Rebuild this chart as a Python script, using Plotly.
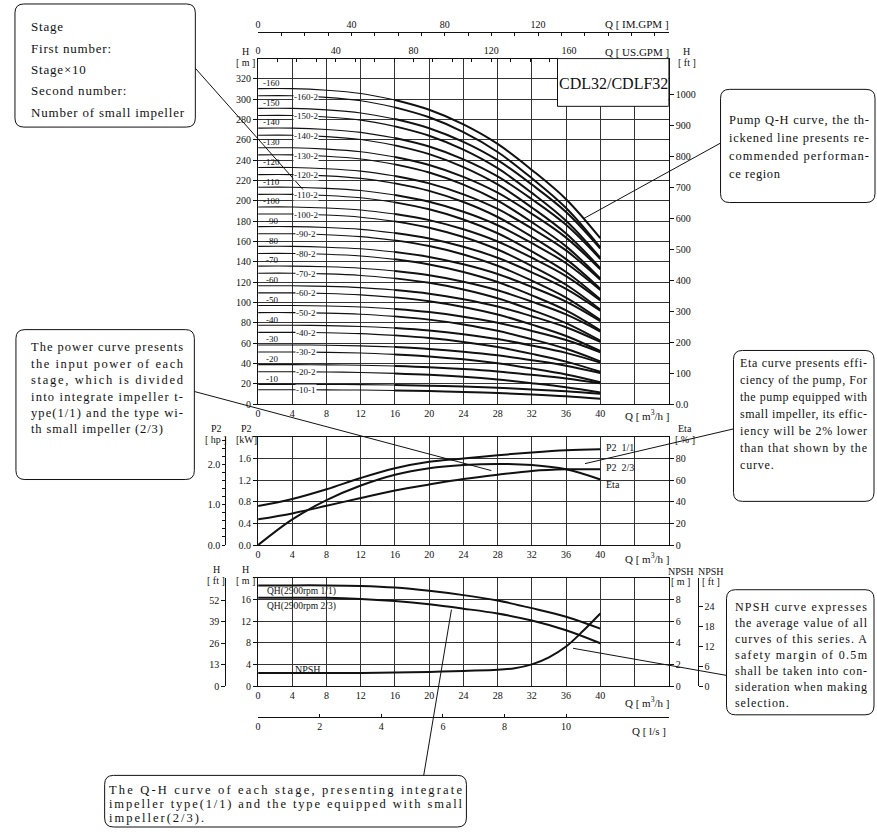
import json
import plotly.graph_objects as go

W, H = 877, 834
FONT = "Liberation Serif, Times New Roman, serif"
INK = "#111111"

# ---- data ----
q = [0, 4, 8, 12, 16, 20, 24, 28, 32, 36, 40]

stage_labels = ["-10", "-20", "-30", "-40", "-50", "-60", "-70", "-80",
                "-90", "-100", "-110", "-120", "-130", "-140", "-150", "-160"]
small_labels = ["-10-1", "-20-2", "-30-2", "-40-2", "-50-2", "-60-2", "-70-2", "-80-2",
                "-90-2", "-100-2", "-110-2", "-120-2", "-130-2", "-140-2", "-150-2", "-160-2"]

# H [m] of each stage curve, integrate impeller (1/1)
qh_stage = [
    [19.4, 19.4, 19.3, 19.1, 18.7, 18.1, 17.2, 16.0, 14.4, 12.6, 10.2],
    [38.8, 38.8, 38.6, 38.2, 37.4, 36.2, 34.4, 32.0, 28.8, 25.2, 20.4],
    [58.2, 58.2, 57.9, 57.3, 56.1, 54.3, 51.6, 48.0, 43.2, 37.8, 30.6],
    [77.6, 77.6, 77.2, 76.4, 74.8, 72.4, 68.8, 64.0, 57.6, 50.4, 40.8],
    [97.0, 97.0, 96.5, 95.5, 93.5, 90.5, 86.0, 80.0, 72.0, 63.0, 51.0],
    [116.4, 116.4, 115.8, 114.6, 112.2, 108.6, 103.2, 96.0, 86.4, 75.6, 61.2],
    [135.8, 135.8, 135.1, 133.7, 130.9, 126.7, 120.4, 112.0, 100.8, 88.2, 71.4],
    [155.2, 155.2, 154.4, 152.8, 149.6, 144.8, 137.6, 128.0, 115.2, 100.8, 81.6],
    [174.6, 174.6, 173.7, 171.9, 168.3, 162.9, 154.8, 144.0, 129.6, 113.4, 91.8],
    [194.0, 194.0, 193.0, 191.0, 187.0, 181.0, 172.0, 160.0, 144.0, 126.0, 102.0],
    [213.4, 213.4, 212.3, 210.1, 205.7, 199.1, 189.2, 176.0, 158.4, 138.6, 112.2],
    [232.8, 232.8, 231.6, 229.2, 224.4, 217.2, 206.4, 192.0, 172.8, 151.2, 122.4],
    [252.2, 252.2, 250.9, 248.3, 243.1, 235.3, 223.6, 208.0, 187.2, 163.8, 132.6],
    [271.6, 271.6, 270.2, 267.4, 261.8, 253.4, 240.8, 224.0, 201.6, 176.4, 142.8],
    [291.0, 291.0, 289.5, 286.5, 280.5, 271.5, 258.0, 240.0, 216.0, 189.0, 153.0],
    [310.4, 310.4, 308.8, 305.6, 299.2, 289.6, 275.2, 256.0, 230.4, 201.6, 163.2],
]

# H [m] of each stage curve with small impellers
qh_small = [
    [14.1, 14.1, 14.0, 13.8, 13.4, 12.8, 12.0, 10.9, 9.5, 7.7, 5.2],
    [31.8, 31.8, 31.6, 31.1, 30.2, 28.8, 26.8, 24.1, 20.6, 16.6, 11.4],
    [51.2, 51.2, 50.9, 50.2, 48.9, 46.9, 44.0, 40.1, 35.0, 29.2, 21.6],
    [70.6, 70.6, 70.2, 69.3, 67.6, 65.0, 61.2, 56.1, 49.4, 41.8, 31.8],
    [90.0, 90.0, 89.5, 88.4, 86.3, 83.1, 78.4, 72.1, 63.8, 54.4, 42.0],
    [109.4, 109.4, 108.8, 107.5, 105.0, 101.2, 95.6, 88.1, 78.2, 67.0, 52.2],
    [128.8, 128.8, 128.1, 126.6, 123.7, 119.3, 112.8, 104.1, 92.6, 79.6, 62.4],
    [148.2, 148.2, 147.4, 145.7, 142.4, 137.4, 130.0, 120.1, 107.0, 92.2, 72.6],
    [167.6, 167.6, 166.7, 164.8, 161.1, 155.5, 147.2, 136.1, 121.4, 104.8, 82.8],
    [187.0, 187.0, 186.0, 183.9, 179.8, 173.6, 164.4, 152.1, 135.8, 117.4, 93.0],
    [206.4, 206.4, 205.3, 203.0, 198.5, 191.7, 181.6, 168.1, 150.2, 130.0, 103.2],
    [225.8, 225.8, 224.6, 222.1, 217.2, 209.8, 198.8, 184.1, 164.6, 142.6, 113.4],
    [245.2, 245.2, 243.9, 241.2, 235.9, 227.9, 216.0, 200.1, 179.0, 155.2, 123.6],
    [264.6, 264.6, 263.2, 260.3, 254.6, 246.0, 233.2, 216.1, 193.4, 167.8, 133.8],
    [284.0, 284.0, 282.5, 279.4, 273.3, 264.1, 250.4, 232.1, 207.8, 180.4, 144.0],
    [303.4, 303.4, 301.8, 298.5, 292.0, 282.2, 267.6, 248.1, 222.2, 193.0, 154.2],
]

# power [kW] and efficiency [%]
p2_full = [0.72, 0.85, 1.03, 1.24, 1.42, 1.54, 1.60, 1.66, 1.71, 1.75, 1.77]
p2_small = [0.475, 0.585, 0.725, 0.87, 1.01, 1.12, 1.22, 1.30, 1.37, 1.40, 1.40]
eta = [0, 23.7, 41.5, 55, 65, 71, 74, 75, 74, 70, 60.6]

# single stage H [m] and NPSH [m]
qh_one_full = [18.6, 18.6, 18.6, 18.5, 18.2, 17.6, 16.8, 15.8, 14.4, 12.8, 10.6]
qh_one_small = [16.3, 16.3, 16.3, 16.1, 15.7, 15.1, 14.3, 13.4, 12.1, 10.3, 7.9]
q_npsh = [0, 4, 8, 12, 16, 20, 24, 28, 30, 32, 34, 36, 38, 40]
npsh = [1.2, 1.2, 1.2, 1.2, 1.25, 1.3, 1.4, 1.5, 1.65, 2.0, 2.65, 3.65, 5.1, 6.7]

# unit conversions
M_TO_FT = 1 / 0.3048
M3H_TO_USGPM = 4.4029
M3H_TO_IMGPM = 3.6662
M3H_TO_LS = 1 / 3.6
KW_TO_HP = 1 / 0.7457

# callout lettering: ["w", width] = spread line to that width, ["s", px] = fixed spacing
spread = {}


def px(x):
    return x / W


def py(y):
    return 1 - y / H


def ann(x, y, text, size=10, anchor="center"):
    fig.add_annotation(x=px(x), y=py(y), xref="paper", yref="paper", text=text,
                       showarrow=False, xanchor=anchor, yanchor="middle",
                       align="left" if anchor == "left" else "center",
                       font=dict(family=FONT, size=size, color=INK))


def rbox(x0, y0, x1, y1, r=9):
    pts = [("M", x0 + r, y0), ("L", x1 - r, y0), ("Q", x1, y0, x1, y0 + r),
           ("L", x1, y1 - r), ("Q", x1, y1, x1 - r, y1), ("L", x0 + r, y1),
           ("Q", x0, y1, x0, y1 - r), ("L", x0, y0 + r), ("Q", x0, y0, x0 + r, y0)]
    path = ""
    for p in pts:
        nums = p[1:]
        s = [f"{px(nums[i]):.5f},{py(nums[i+1]):.5f}" for i in range(0, len(nums), 2)]
        path += p[0] + " " + " ".join(s) + " "
    fig.add_shape(type="path", path=path + "Z", xref="paper", yref="paper",
                  line=dict(color=INK, width=1), fillcolor="white", layer="above")


def box_text(x, y0, step, lines, size, width=None, last=0.8):
    # x is where the letters start; the annotation box adds ~4px of padding
    for i, t in enumerate(lines):
        ann(x - 4, y0 + step * i, t, size, "left")
        if width is None or i == len(lines) - 1:
            spread[t] = ["s", last]
        else:
            spread[t] = ["w", width]


def pline(x0, y0, x1, y1):
    fig.add_shape(type="line", x0=px(x0), y0=py(y0), x1=px(x1), y1=py(y1),
                  xref="paper", yref="paper", line=dict(color=INK, width=1), layer="above")


fig = go.Figure()

#### main Q-H panel ####
for i in range(16):
    for curve in (qh_stage[i], qh_small[i]):
        fig.add_trace(go.Scatter(x=q[:5], y=curve[:5], mode="lines", xaxis="x", yaxis="y",
                                 line=dict(color=INK, width=1.1, shape="spline")))
        fig.add_trace(go.Scatter(x=q[4:], y=curve[4:], mode="lines", xaxis="x", yaxis="y",
                                 line=dict(color=INK, width=2, shape="spline")))
    fig.add_annotation(x=1.6, y=qh_stage[i][0] + 5.5, xref="x", yref="y", text=stage_labels[i],
                       showarrow=False, font=dict(family=FONT, size=9, color=INK))
    fig.add_annotation(x=5.6, y=(qh_small[i][1] + qh_small[i][2]) / 2, xref="x", yref="y",
                       text=small_labels[i], showarrow=False, bgcolor="white", borderpad=0,
                       font=dict(family=FONT, size=9, color=INK))

# empty traces so the extra unit axes get drawn
fig.add_trace(go.Scatter(x=[], y=[], xaxis="x4", yaxis="y4"))
fig.add_trace(go.Scatter(x=[], y=[], xaxis="x5", yaxis="y"))

#### power / efficiency panel ####
fig.add_trace(go.Scatter(x=q, y=p2_full, mode="lines", xaxis="x2", yaxis="y2",
                         line=dict(color=INK, width=2, shape="spline")))
fig.add_trace(go.Scatter(x=q, y=p2_small, mode="lines", xaxis="x2", yaxis="y2",
                         line=dict(color=INK, width=2, shape="spline")))
fig.add_trace(go.Scatter(x=q, y=eta, mode="lines", xaxis="x2", yaxis="y6",
                         line=dict(color=INK, width=2, shape="spline")))
fig.add_trace(go.Scatter(x=[], y=[], xaxis="x2", yaxis="y5"))

#### single stage / NPSH panel ####
fig.add_trace(go.Scatter(x=q, y=qh_one_full, mode="lines", xaxis="x3", yaxis="y3",
                         line=dict(color=INK, width=2, shape="spline")))
fig.add_trace(go.Scatter(x=q, y=qh_one_small, mode="lines", xaxis="x3", yaxis="y3",
                         line=dict(color=INK, width=2, shape="spline")))
fig.add_trace(go.Scatter(x=q_npsh, y=npsh, mode="lines", xaxis="x3", yaxis="y8",
                         line=dict(color=INK, width=2, shape="spline")))
fig.add_trace(go.Scatter(x=[], y=[], xaxis="x3", yaxis="y7"))
fig.add_trace(go.Scatter(x=[], y=[], xaxis="x3", yaxis="y9"))
fig.add_trace(go.Scatter(x=[], y=[], xaxis="x6", yaxis="y3"))

#### axes ####
xdom = [px(256), px(668)]
dom_main = [py(407), py(59)]
dom_mid = [py(549), py(440)]
dom_bot = [py(691), py(582)]
tf = dict(family=FONT, size=10, color=INK)
grid = dict(showgrid=True, gridcolor="#333333", gridwidth=1)
frame = dict(showline=True, linecolor=INK, linewidth=1, mirror=True, zeroline=False)

qvals = list(range(0, 49, 4))
qtext = [str(v) if v <= 40 else "" for v in qvals]


def qaxis(anchor):
    return dict(domain=xdom, range=[0, 48], tickvals=qvals, ticktext=qtext, ticks="",
                tickfont=tf, anchor=anchor, **grid, **frame)


def top_flow(factor, last_label, pos=None):
    top = 48 * factor
    vals = list(range(0, int(top) + 1, 10))
    d = dict(overlaying="x", side="top", range=[0, top], tickvals=vals,
             ticktext=[str(v) if v % 40 == 0 and v <= last_label else "" for v in vals],
             ticks="inside", ticklen=3, tickcolor=INK, tickfont=tf, showgrid=False,
             zeroline=False, showline=True, linecolor=INK, linewidth=1)
    if pos is None:
        d["anchor"] = "y"
    else:
        d["anchor"] = "free"
        d["position"] = pos
    return d


def side_axis(overlay, rng, vals, text, side, pos=None, anchor=None, ticklen=4):
    d = dict(overlaying=overlay, side=side, range=rng, tickvals=vals, ticktext=text,
             ticks="outside", ticklen=ticklen, tickcolor=INK, tickfont=tf, showgrid=False,
             zeroline=False, showline=True, linecolor=INK, linewidth=1)
    if pos is None:
        d["anchor"] = anchor
    else:
        d["anchor"] = "free"
        d["position"] = pos
    return d


hp_vals = [round(0.2 * i, 1) for i in range(14)]
hp_text = [f"{v:.1f}" if abs(v - round(v)) < 1e-9 else "" for v in hp_vals]
ls_vals = [0, 2, 4, 6, 8, 10]

fig.update_layout(
    width=W, height=H, autosize=False, showlegend=False, hovermode=False,
    margin=dict(l=0, r=0, t=0, b=0),
    paper_bgcolor="white", plot_bgcolor="white",
    font=dict(family=FONT, color=INK),
    xaxis=qaxis("y"),
    yaxis=dict(domain=dom_main, range=[0, 340], tickvals=list(range(0, 321, 20)),
               ticks="outside", ticklen=4, tickcolor=INK, tickfont=tf, anchor="x", **grid, **frame),
    yaxis4=side_axis("y", [0, 340 * M_TO_FT], list(range(0, 1001, 100)),
                     ["0.0"] + [str(v) for v in range(100, 1001, 100)], "right", anchor="x"),
    xaxis4=top_flow(M3H_TO_USGPM, 160),
    xaxis5=top_flow(M3H_TO_IMGPM, 120, pos=py(32)),

    xaxis2=qaxis("y2"),
    yaxis2=dict(domain=dom_mid, range=[0, 2.0], tickvals=[0, 0.4, 0.8, 1.2, 1.6, 2.0],
                ticktext=["0.0", "0.4", "0.8", "1.2", "1.6", ""],
                ticks="outside", ticklen=4, tickcolor=INK, tickfont=tf, anchor="x2", **grid, **frame),
    yaxis5=side_axis("y2", [0, 2.0 * KW_TO_HP], hp_vals, hp_text, "left", pos=px(223), ticklen=3),
    yaxis6=side_axis("y2", [0, 100], [0, 20, 40, 60, 80], ["0", "20", "40", "60", "80"],
                     "right", anchor="x2"),

    xaxis3=qaxis("y3"),
    yaxis3=dict(domain=dom_bot, range=[0, 20], tickvals=[0, 4, 8, 12, 16, 20],
                ticktext=["0", "4", "8", "12", "16", ""],
                ticks="outside", ticklen=4, tickcolor=INK, tickfont=tf, anchor="x3", **grid, **frame),
    yaxis7=side_axis("y3", [0, 20 * M_TO_FT], [0, 13, 26, 39, 52], ["0", "13", "26", "39", "52"],
                     "left", pos=px(223)),
    yaxis8=side_axis("y3", [0, 10], [0, 2, 4, 6, 8], ["0", "2", "4", "6", "8"], "right", anchor="x3"),
    yaxis9=side_axis("y3", [0, 10 * M_TO_FT], [0, 6, 12, 18, 24], ["0", "6", "12", "18", "24"],
                     "right", pos=px(697)),
    xaxis6=dict(overlaying="x3", side="bottom", anchor="free", position=py(722),
                range=[0, 48 * M3H_TO_LS], tickvals=ls_vals, ticktext=[str(v) for v in ls_vals],
                ticks="inside", ticklen=3, tickcolor=INK, tickfont=tf, showgrid=False,
                zeroline=False, showline=True, linecolor=INK, linewidth=1),
)

# model box in the top right corner
fig.add_shape(type="rect", x0=35, x1=48, y0=293, y1=340, xref="x", yref="y",
              line=dict(color=INK, width=1), fillcolor="white", layer="above")
fig.add_annotation(x=41.5, y=315, xref="x", yref="y", text="CDL32/CDLF32", showarrow=False,
                   font=dict(family=FONT, size=16, color=INK))

#### axis titles ####
ann(636, 24, "Q [ IM.GPM ]", 11)
ann(636, 52, "Q [ US.GPM ]", 11)
ann(243, 52, "H", 10)
ann(243, 63, "[ m ]", 10)
ann(686, 52, "H", 10)
ann(686, 63, "[ ft ]", 10)
ann(647, 418, "Q [ m<sup>3</sup>/h ]", 11)

ann(214, 432, "P2", 10)
ann(214, 443, "[ hp ]", 10)
ann(244, 432, "P2", 10)
ann(244, 443, "[kW]", 10)
ann(684, 432, "Eta", 10)
ann(684, 443, "[ % ]", 10)
ann(647, 562, "Q [ m<sup>3</sup>/h ]", 11)
ann(603, 451, "P2  1/1", 10, "left")
ann(603, 471, "P2  2/3", 10, "left")
ann(603, 488, "Eta", 10, "left")

ann(214, 574, "H", 10)
ann(214, 585, "[ ft ]", 10)
ann(243, 574, "H", 10)
ann(243, 585, "[ m ]", 10)
ann(680, 576, "NPSH", 10)
ann(680, 586, "[ m ]", 10)
ann(710, 576, "NPSH", 10)
ann(710, 586, "[ ft ]", 10)
ann(263, 596, "QH(2900rpm 1/1)", 9.5, "left")
ann(263, 611, "QH(2900rpm 2/3)", 9.5, "left")
ann(306, 674, "NPSH", 10)
ann(647, 707, "Q [ m<sup>3</sup>/h ]", 11)
ann(648, 736, "Q [ l/s ]", 11)

#### callout boxes ####
pline(187, 62, 302, 192)
pline(722, 143, 583, 220)
pline(187, 393, 490, 474)
pline(733, 432, 584, 467)
pline(572, 653, 730, 681)
pline(422, 782, 450, 614)

rbox(12, 4, 193, 128)
box_text(30, 27, 21.5, ["Stage", "First number:", "Stage×10", "Second number:",
                        "Number of small impeller"], 13, last=0.8)

rbox(720, 90, 875, 204)
box_text(730, 121, 18, ["Pump Q-H curve, the th-", "ickened line presents re-",
                        "commended performan-", "ce region"], 12.5, width=140, last=0.6)

rbox(13, 332, 192, 483)
box_text(30, 350, 16.5, ["The power curve presents", "the input power of each",
                         "stage, which is divided", "into integrate impeller t-",
                         "ype(1/1) and the type wi-", "th small impeller (2/3)"],
         12.5, width=152, last=0.9)

rbox(733, 353, 874, 505)
box_text(742, 366, 17, ["Eta curve presents effi-", "ciency of the pump, For",
                        "the pump equipped with", "small impeller, its effic-",
                        "iency will be 2% lower", "than that shown by the", "curve."],
         12, width=127, last=0.8)

rbox(726, 594, 874, 720)
box_text(737, 611, 16.2, ["NPSH curve expresses", "the average value of all",
                          "curves of this series. A", "safety margin of 0.5m",
                          "shall be taken into con-", "sideration when making", "selection."],
         12, width=132, last=0.9)

rbox(102, 781, 465, 833)
box_text(108, 796, 14, ["The Q-H curve of each stage, presenting integrate",
                        "impeller type(1/1) and the type equipped with small",
                        "impeller(2/3)."], 12.5, width=353, last=2.0)

# page body margin off; spread the callout lettering like the printed sheet
post = """
document.body.style.margin = '0px';
var gd = document.getElementById('{plot_id}');
var sp = %s;
gd.querySelectorAll('g.annotation text').forEach(function (t) {
    var k = t.textContent;
    if (!sp.hasOwnProperty(k)) { return; }
    var v = sp[k], ls = v[1];
    if (v[0] === 'w') {
        var w0 = t.getComputedTextLength();
        ls = (v[1] - w0) / Math.max(k.length - 1, 1);
    }
    t.setAttribute('letter-spacing', ls.toFixed(3) + 'px');
});
""" % json.dumps(spread, ensure_ascii=False)

fig.write_html("out.html", post_script=post, config={"displayModeBar": False})
